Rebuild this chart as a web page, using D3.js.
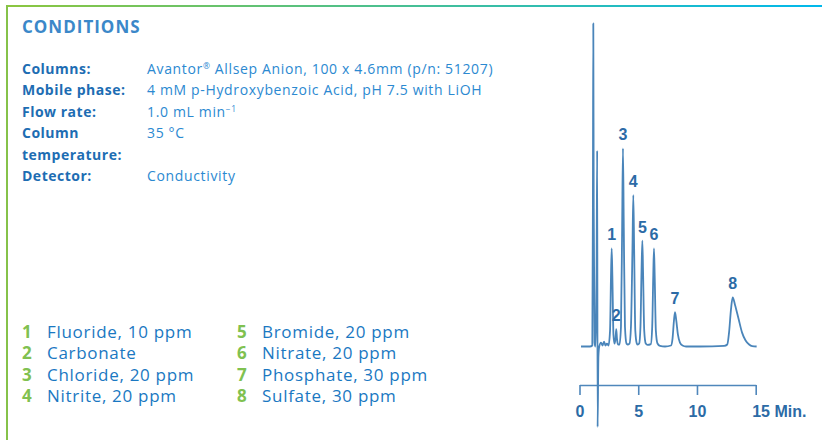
<!DOCTYPE html>
<html>
<head>
<meta charset="utf-8">
<script src="https://cdn.jsdelivr.net/npm/d3@7"></script>
<style>
  html, body { margin: 0; padding: 0; background: #ffffff; }
  svg { display: block; }
</style>
</head>
<body>
<div id="chart"></div>
<script>
// ---------------- data ----------------
const conditionLabels = ["Columns:", "Mobile phase:", "Flow rate:", "Column", "temperature:", "Detector:"];
const conditionValues = [
  "Avantor® Allsep Anion, 100 x 4.6mm (p/n: 51207)",
  "4 mM p-Hydroxybenzoic Acid, pH 7.5 with LiOH",
  "1.0 mL min⁻¹",
  "35 °C",
  "",
  "Conductivity"
];
const peakNumbers = [1, 2, 3, 4, 5, 6, 7, 8];
const analyteNames = [
  "Fluoride, 10 ppm", "Carbonate", "Chloride, 20 ppm", "Nitrite, 20 ppm",
  "Bromide, 20 ppm", "Nitrate, 20 ppm", "Phosphate, 30 ppm", "Sulfate, 30 ppm"
];
// peak apex: retention time (min) and relative response (chloride = 100)
const peakApexMinutes = [2.74, 3.13, 3.70, 4.58, 5.35, 6.34, 8.13, 13.04];
const peakApexSignal  = [49.5, 8.8, 100, 76.4, 53.4, 49.5, 17.3, 24.8];
// chromatogram trace
const traceMinutes = [
  0.13, 0.89, 1.09, 1.14, 1.175, 1.21, 1.28, 1.36, 1.455, 1.505, 1.54, 1.61, 1.68,
  1.83, 1.96, 2.09, 2.21, 2.34,
  2.47, 2.60, 2.68, 2.74, 2.80, 2.89, 2.98,
  3.065, 3.13, 3.19, 3.28,
  3.405, 3.53, 3.63, 3.70, 3.77, 3.87, 4.00, 4.09,
  4.256, 4.38, 4.51, 4.58, 4.65, 4.75, 4.88, 4.96,
  5.08, 5.19, 5.28, 5.35, 5.41, 5.51, 5.64, 5.79,
  6.07, 6.19, 6.28, 6.34, 6.40, 6.50, 6.64, 6.85, 7.28,
  7.79, 7.92, 8.04, 8.13, 8.24, 8.38, 8.55, 8.77, 9.07,
  10.26, 12.32,
  12.58, 12.73, 12.90, 13.04, 13.24, 13.54, 13.84, 14.14, 14.44, 14.70, 15.08
];
const traceSignal = [
  0, 0, 0.5, 70, 163, 70, 2, 0, 40, 98.8, -40.6, -5, 0,
  2, 0.5, 2.5, 0.5, 1.5,
  0.5, 8, 35, 49.5, 35, 6, 1.5,
  4, 8.8, 4, 1,
  1, 10, 60, 100, 60, 10, 1.5, 1,
  1.5, 10, 50, 76.4, 50, 8, 1.5, 1,
  1.5, 10, 38, 53.4, 38, 8, 1.5, 0.8,
  1.2, 10, 36, 49.5, 36, 8, 1.5, 0.3, 0,
  0.5, 4, 13, 17.3, 13, 6, 2, 0.5, 0,
  0, 0.3,
  1, 7, 19, 24.8, 21, 14, 7, 3, 1, 0.2, 0
];
const axisTicks = [0, 5, 10, 15];
const axisTickLabels = ["0", "5", "10", "15 Min."];

// ---------------- layout ----------------
const W = 822, H = 440;
const textFont = "'Open Sans', 'Noto Sans', sans-serif";
const chartFont = "'Liberation Sans', Arial, sans-serif";

const svg = d3.select("#chart").append("svg")
  .attr("width", W).attr("height", H)
  .attr("viewBox", `0 0 ${W} ${H}`);

svg.append("rect").attr("width", W).attr("height", H).attr("fill", "#ffffff");

// frame
const defs = svg.append("defs");
const grad = defs.append("linearGradient").attr("id", "topGrad")
  .attr("x1", "0%").attr("x2", "100%").attr("y1", "0%").attr("y2", "0%");
grad.append("stop").attr("offset", "0%").attr("stop-color", "#8cc63f");
grad.append("stop").attr("offset", "100%").attr("stop-color", "#00b8ec");
svg.append("rect").attr("x", 6).attr("y", 5).attr("width", W - 6).attr("height", 2)
  .attr("fill", "url(#topGrad)");
svg.append("rect").attr("x", 6).attr("y", 5).attr("width", 2).attr("height", H - 5)
  .attr("fill", "#86c24a");

// title
svg.append("text").attr("x", 22).attr("y", 33)
  .attr("font-family", textFont).attr("font-weight", 700).attr("font-size", 17)
  .attr("letter-spacing", 1).attr("fill", "#3b88c9").text("CONDITIONS");

// helper for superscripts
function writeRich(sel, str) {
  const parts = str.split(/(®|⁻¹)/);
  let raised = false;
  parts.forEach(p => {
    if (p === "") return;
    if (p === "®" || p === "⁻¹") {
      sel.append("tspan").attr("font-size", "60%").attr("dy", -5)
        .text(p === "®" ? "®" : "−1");
      raised = true;
    } else {
      const t = sel.append("tspan").text(p);
      if (raised) { t.attr("dy", 5); raised = false; }
    }
  });
}

const condTop = 74, condStep = 21.4;
const condG = svg.append("g");
conditionLabels.forEach((lab, i) => {
  condG.append("text").attr("x", 22).attr("y", condTop + i * condStep)
    .attr("font-family", textFont).attr("font-weight", 700).attr("font-size", 14)
    .attr("letter-spacing", 0.5).attr("fill", "#1d6db3").text(lab);
  if (conditionValues[i]) {
    const t = condG.append("text").attr("x", 147).attr("y", condTop + i * condStep)
      .attr("font-family", textFont).attr("font-weight", 400).attr("font-size", 14)
      .attr("letter-spacing", 0.65).attr("fill", "#2b89d1");
    writeRich(t, conditionValues[i]);
  }
});

// legend
const legTop = 338, legStep = 21.3;
const legG = svg.append("g");
peakNumbers.forEach((n, i) => {
  const col = Math.floor(i / 4), row = i % 4;
  const x0 = col === 0 ? 22 : 237;
  const y0 = legTop + row * legStep;
  legG.append("text").attr("x", x0).attr("y", y0)
    .attr("font-family", textFont).attr("font-weight", 700).attr("font-size", 17)
    .attr("fill", "#80c150").text(n);
  legG.append("text").attr("x", x0 + 25).attr("y", y0)
    .attr("font-family", textFont).attr("font-weight", 400).attr("font-size", 17)
    .attr("letter-spacing", 0.7).attr("fill", "#1a78c2").text(analyteNames[i]);
});

// ---------------- chromatogram ----------------
const x = d3.scaleLinear().domain([0, 15]).range([579.5, 755.7]);
const y = d3.scaleLinear().domain([0, 100]).range([346.5, 148.3]);
const axisY = 385;

const axis = d3.axisBottom(x).tickValues(axisTicks)
  .tickSizeInner(10).tickSizeOuter(0)
  .tickFormat((d, i) => axisTickLabels[i]);
const axG = svg.append("g").attr("transform", `translate(0,${axisY})`).call(axis);
axG.select(".domain").attr("stroke", "#4f87bb").attr("stroke-width", 1.6);
axG.selectAll(".tick line").attr("stroke", "#4f87bb").attr("stroke-width", 1.6);
axG.selectAll(".tick text")
  .attr("y", 31.7).attr("dy", 0)
  .attr("font-family", chartFont).attr("font-weight", 700).attr("font-size", 16)
  .attr("fill", "#2c6ba6");
axG.selectAll(".tick text").filter((d, i) => i === axisTicks.length - 1)
  .attr("text-anchor", "start").attr("x", -4);

const traceData = traceMinutes.map((t, i) => [t, traceSignal[i]]);
const line = d3.line().x(d => x(d[0])).y(d => y(d[1])).curve(d3.curveMonotoneX);
svg.append("path").datum(traceData)
  .attr("d", line).attr("fill", "none")
  .attr("stroke", "#4a85ba").attr("stroke-width", 1.8)
  .attr("stroke-linejoin", "round");

// peak labels
svg.append("g").selectAll("text").data(peakNumbers).join("text")
  .attr("x", (d, i) => x(peakApexMinutes[i]))
  .attr("y", (d, i) => y(peakApexSignal[i]) - 8)
  .attr("text-anchor", "middle")
  .attr("font-family", chartFont).attr("font-weight", 700).attr("font-size", 16)
  .attr("fill", "#2c6ba6")
  .text(d => d);
</script>
</body>
</html>
